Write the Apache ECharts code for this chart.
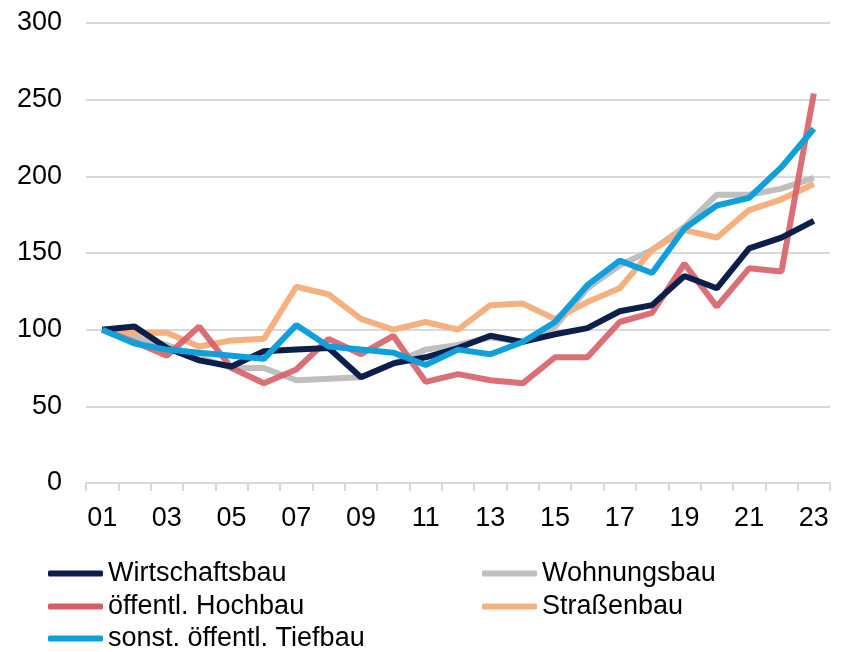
<!DOCTYPE html>
<html>
<head>
<meta charset="utf-8">
<script src="https://cdn.jsdelivr.net/npm/echarts@6/dist/echarts.min.js"></script>
<style>html,body{margin:0;padding:0;background:#fff}#c{width:841px;height:652px}</style>
</head>
<body>
<div id="c"></div>
<script>
const years = ['01','02','03','04','05','06','07','08','09','10','11','12','13','14','15','16','17','18','19','20','21','22','23'];
const wirtschaftsbau = [100,102,88,80,76,86,87,88,69,78,82,88,96,92,97,101,112,116,135,127,153,160,171];
const wohnungsbau = [100,95,90,82,75,75,67,68,69,78,87,90,95,92,102,127,142,152,167,188,188,192,199];
const hochbau = [100,92,83,102,75,65,74,94,84,96,66,71,67,65,82,82,105,111,143,115,140,138,254];
const strassenbau = [100,98,98,89,93,94,128,123,107,100,105,100,116,117,107,118,127,152,165,160,178,185,195];
const tiefbau = [100,91,87,85,83,81,103,89,87,85,77,87,84,92,105,129,145,137,166,181,186,206,231];
const yTicks = [0,50,100,150,200,250,300];

const names = ['Wirtschaftsbau','Wohnungsbau','öffentl. Hochbau','Straßenbau','sonst. öffentl. Tiefbau'];
const colors = ['#0c1f4b','#bfbfbf','#d65f66','#f5b080','#0fa0dc'];
const dataSets = [wirtschaftsbau, wohnungsbau, hochbau, strassenbau, tiefbau];
const order = [1,3,2,0,4];
const legendPos = [[48,560],[482,560],[48,593],[482,593],[48,625]];

const chart = echarts.init(document.getElementById('c'));
const font = 'Liberation Sans, Arial, sans-serif';
chart.setOption({
  animation: false,
  grid: {left: 86, right: 11, top: 23, bottom: 169, containLabel: false},
  xAxis: {
    type: 'category', data: years, boundaryGap: true,
    axisLine: {lineStyle: {color: '#d9d9d9', width: 2}},
    axisTick: {show: true, interval: 0, length: 8, lineStyle: {color: '#d9d9d9', width: 2}},
    axisLabel: {interval: 1, fontFamily: font, fontSize: 27, color: '#000', margin: 22}
  },
  yAxis: {
    type: 'value', min: yTicks[0], max: yTicks[yTicks.length-1], interval: 50,
    axisLine: {show: false}, axisTick: {show: false},
    splitLine: {lineStyle: {color: '#d9d9d9', width: 2}},
    axisLabel: {fontFamily: font, fontSize: 27, color: '#000', margin: 24}
  },
  legend: names.map((n, i) => ({
    left: legendPos[i][0], top: legendPos[i][1], data: [n], padding: 0,
    icon: 'roundRect', itemWidth: 55, itemHeight: 6,
    textStyle: {fontFamily: font, fontSize: 27, color: '#000', lineHeight: 26},
    selectedMode: false
  })),
  series: order.map(i => ({
    name: names[i], type: 'line', data: dataSets[i], symbol: 'none',
    lineStyle: {color: colors[i], width: 6, opacity: i === 2 ? 0.9 : 1},
    itemStyle: {color: colors[i]}
  }))
});
</script>
</body>
</html>
